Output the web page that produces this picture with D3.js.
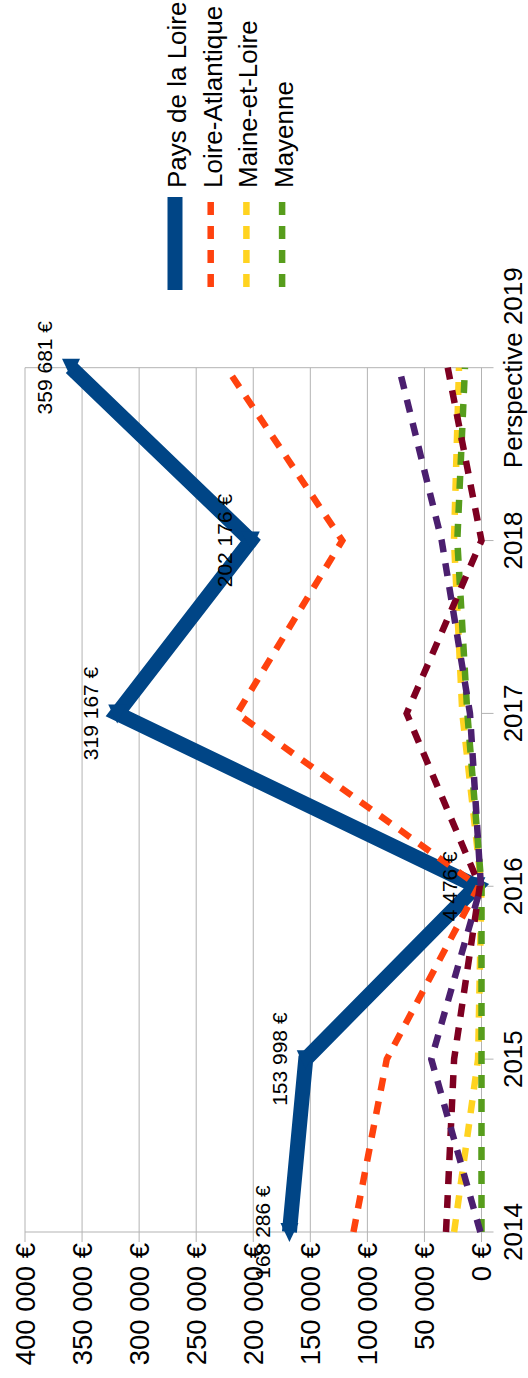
<!DOCTYPE html>
<html><head><meta charset="utf-8">
<script src="https://cdn.jsdelivr.net/npm/d3@7"></script>
<style>html,body{margin:0;padding:0;background:#fff;}svg{display:block;font-family:"Liberation Sans",Arial,sans-serif;}</style>
</head><body>
<script>
const categories = ["2014","2015","2016","2017","2018","Perspective 2019"];
const valueTicks = [0,50000,100000,150000,200000,250000,300000,350000,400000];
const paysDeLaLoire   = [168286,153998,4476,319167,202176,359681];
const loireAtlantique = [112200,83000,2500,214200,122000,223500];
const maineEtLoire    = [24000,3000,0,16800,24100,19700];
const mayenne         = [0,0,0,12400,21200,14500];
const sarthe          = [31100,24000,1500,65600,0,29600];
const vendee          = [1000,44000,476,10100,34900,72300];

const series = [
  {name:"Pays de la Loire", values:paysDeLaLoire, color:"#004586", width:15, dash:null, legend:true},
  {name:"Loire-Atlantique", values:loireAtlantique, color:"#ff420e", width:6.5, dash:"13,11", legend:true},
  {name:"Maine-et-Loire", values:maineEtLoire, color:"#ffd320", width:6.5, dash:"13,11", legend:true},
  {name:"Mayenne", values:mayenne, color:"#579d1c", width:6.5, dash:"13,11", legend:true},
  {name:"Sarthe", values:sarthe, color:"#7e0021", width:6.5, dash:"13,11", legend:false},
  {name:"Vendée", values:vendee, color:"#4b1f6f", width:6.5, dash:"13,11", legend:false}
];

const W=528,H=1378;
const svg=d3.select("body").append("svg").attr("width",W).attr("height",H);

const x=d3.scaleLinear().domain([0,400000]).range([481.5,25]);
const y=d3.scalePoint().domain(categories).range([1232,367.7]);
const fmt=v=>d3.format(",")(v).replace(/,/g," ")+" €";

// gridlines (value axis)
const grid=svg.append("g");
grid.selectAll("line").data(valueTicks).join("line")
  .attr("x1",d=>x(d)).attr("x2",d=>x(d))
  .attr("y1",y("Perspective 2019")).attr("y2",y("2014")+10)
  .attr("stroke","#b3b3b3").attr("stroke-width",1);
// category lines / ticks
grid.selectAll("line.cat").data(categories).join("line").attr("class","cat")
  .attr("x1",d=>(d==="2014"||d==="Perspective 2019")?x(400000):x(0)).attr("x2",x(0)+12)
  .attr("y1",d=>y(d)).attr("y2",d=>y(d))
  .attr("stroke","#b3b3b3").attr("stroke-width",1);

// value axis labels
svg.append("g").selectAll("text").data(valueTicks).join("text")
  .attr("transform",d=>`translate(${x(d)},${y("2014")+11}) rotate(-90)`)
  .attr("text-anchor","end").attr("dy","0.35em")
  .attr("font-size",27.5).attr("fill","#000")
  .text(d=>fmt(d));

// category labels
svg.append("g").selectAll("text").data(categories).join("text")
  .attr("transform",d=>`translate(${x(0)+31},${y(d)}) rotate(-90)`)
  .attr("text-anchor","middle").attr("dy","0.35em")
  .attr("font-size",26).attr("fill","#000")
  .text(d=>d);

const line=d3.line().x(d=>x(d.v)).y(d=>y(d.c));
series.forEach((s,i)=>{
  const pts=s.values.map((v,j)=>({v,c:categories[j]}));
  svg.append("path").datum(pts).attr("d",line)
    .attr("fill","none").attr("stroke",s.color).attr("stroke-width",s.width)
    .attr("stroke-dasharray",s.dash).attr("stroke-linejoin","miter")
    .attr("stroke-linecap","butt");
  if(i===0){
    svg.append("g").selectAll("path").data(pts).join("path")
      .attr("d",d=>{const px=x(d.v),py=y(d.c);return `M${px-9},${py-9}L${px+9},${py-9}L${px},${py+10}Z`;})
      .attr("fill",s.color);
  }
});

// data labels
svg.append("g").selectAll("text").data(paysDeLaLoire.map((v,j)=>({v,c:categories[j]}))).join("text")
  .attr("transform",d=>`translate(${x(d.v)-19},${y(d.c)}) rotate(-90)`)
  .attr("text-anchor","middle").attr("font-size",21).attr("fill","#000")
  .text(d=>fmt(d.v));

// legend
const leg=svg.append("g");
series.filter(s=>s.legend).forEach((s,i)=>{
  const bx=186+i*35.7;
  leg.append("line").attr("x1",bx-11).attr("x2",bx-11).attr("y1",197).attr("y2",290)
    .attr("stroke",s.color).attr("stroke-width",s.width).attr("stroke-dasharray",s.dash?"0,5,13,11,13,11,13,11,13,11":null);
  leg.append("text").attr("transform",`translate(${bx},188) rotate(-90)`)
    .attr("font-size",26).attr("fill","#000").text(s.name);
});
</script>
</body></html>
